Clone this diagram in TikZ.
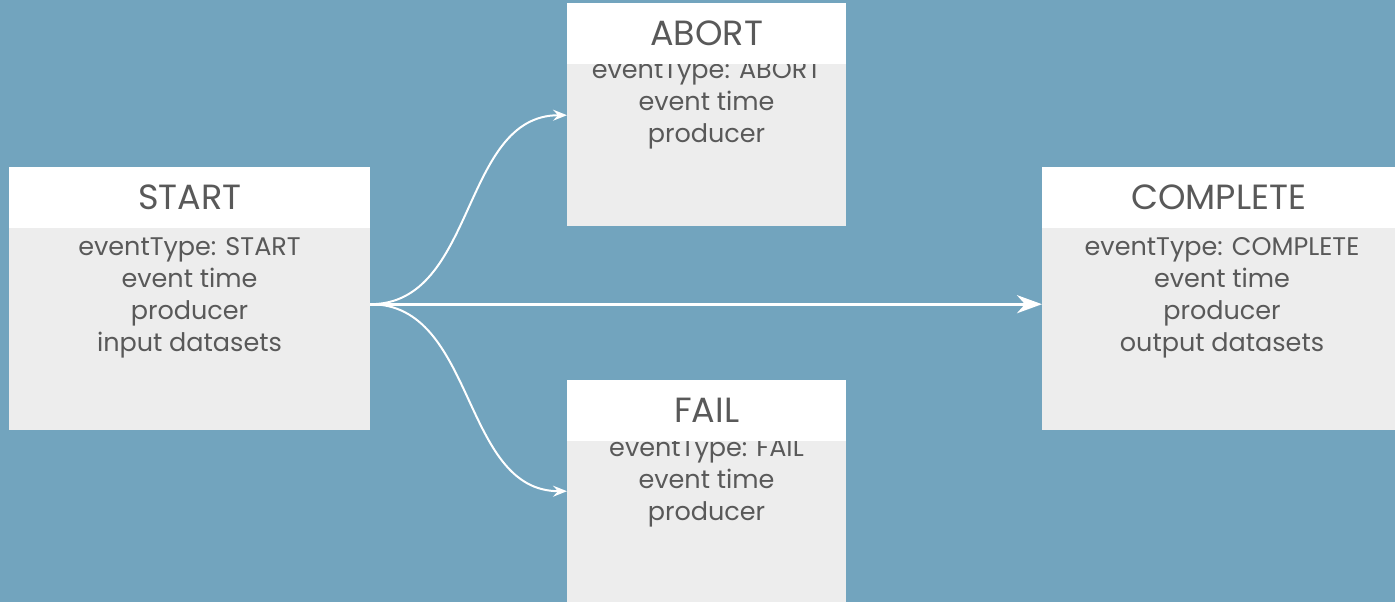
\documentclass[tikz,border=0pt]{standalone}
\usepackage{fontspec}
\setmainfont{Poppins}
\usetikzlibrary{arrows.meta}
\definecolor{bg}{HTML}{72A4BE}
\definecolor{bodygray}{HTML}{EDEDED}
\definecolor{ink}{HTML}{595959}
\begin{document}
\begin{tikzpicture}[x=1pt,y=-1pt,
  headbox/.style={fill=white, draw=none, inner sep=0pt, anchor=north west,
    minimum height=61pt, text=ink, font=\fontsize{35}{40}\selectfont},
  bodybox/.style={fill=bodygray, draw=none, inner sep=0pt, anchor=north west},
  % the base anchor of a multi-line text sits on its last baseline
  bodytext/.style={text=ink, inner sep=0pt, align=center, anchor=base,
    font=\fontsize{25.5}{32}\selectfont},
  flow/.style={draw=white, line width=2pt, -{Stealth[length=14pt,width=11pt,inset=5pt]}},
  mainflow/.style={draw=white, line width=3pt, -{Stealth[length=25pt,width=18pt,inset=8pt]}}]
  % background
  \fill[bg] (0,0) rectangle (1395,602);
  \useasboundingbox (0,0) rectangle (1395,602);

  % START
  \node[bodybox, minimum width=361pt, minimum height=202pt] (startbody) at (9,228) {};
  \node[bodytext] (starttext) at (189.5,351)
    {eventType: START\\event time\\producer\\input datasets};
  \node[headbox, minimum width=361pt] (starthead) at (9,167) {START};

  % ABORT
  \node[bodybox, minimum width=279pt, minimum height=162pt] (abortbody) at (567,64) {};
  \node[bodytext] (aborttext) at (706.5,142)
    {eventType: ABORT\\event time\\producer};
  \node[headbox, minimum width=279pt] (aborthead) at (567,3) {ABORT};

  % FAIL
  \node[bodybox, minimum width=279pt, minimum height=161pt] (failbody) at (567,441) {};
  \node[bodytext] (failtext) at (706.5,520)
    {eventType: FAIL\\event time\\producer};
  \node[headbox, minimum width=279pt] (failhead) at (567,380) {FAIL};

  % COMPLETE
  \node[bodybox, minimum width=353pt, minimum height=202pt] (completebody) at (1042,228) {};
  \node[bodytext] (completetext) at (1222,351)
    {eventType: COMPLETE\\event time\\producer\\output datasets};
  \node[headbox, minimum width=353pt] (completehead) at (1042,167) {COMPLETE};

  % connector ends on the box edges
  \coordinate (startout) at ([yshift=25pt]startbody.east);
  \coordinate (abortin) at ([yshift=30pt]abortbody.west);
  \coordinate (failin) at ([yshift=30.5pt]failbody.west);
  \coordinate (completein) at ([yshift=25pt]completebody.west);

  % transitions
  \draw[flow] (startout) to[out=0,in=180] (abortin);
  \draw[flow] (startout) to[out=0,in=180] (failin);
  \draw[mainflow] (startout) -- (completein);
\end{tikzpicture}
\end{document}
